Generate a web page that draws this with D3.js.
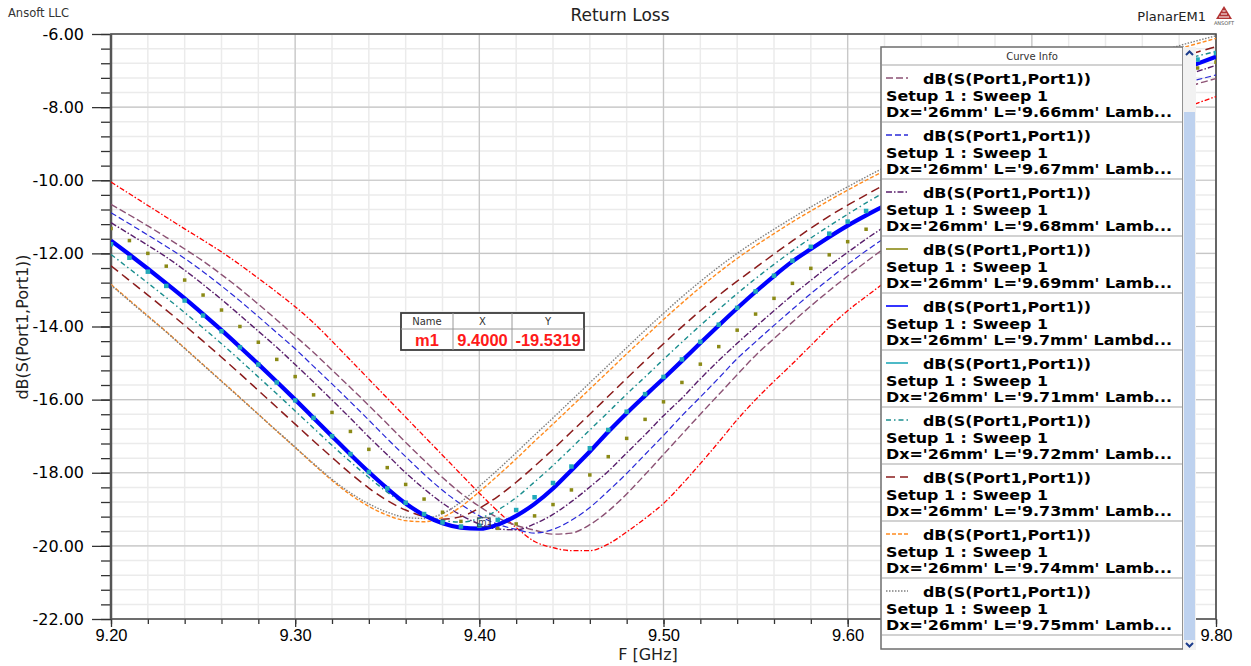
<!DOCTYPE html>
<html>
<head>
<meta charset="utf-8">
<title>Return Loss</title>
<script src="https://cdnjs.cloudflare.com/ajax/libs/d3/7.8.5/d3.min.js"></script>
<style>
  body { margin: 0; background: #fff; }
  svg { display: block; }
</style>
</head>
<body>
<div id="chart"></div>
<script>

// ---- DATA -------------------------

var freqGHz = [9.20, 9.21, 9.22, 9.23, 9.24, 9.25, 9.26, 9.27, 9.28, 9.29, 9.30,
               9.31, 9.32, 9.33, 9.34, 9.35, 9.36, 9.37, 9.38, 9.39, 9.40,
               9.41, 9.42, 9.43, 9.44, 9.45, 9.46, 9.47, 9.48, 9.49, 9.50,
               9.51, 9.52, 9.53, 9.54, 9.55, 9.56, 9.57, 9.58, 9.59, 9.60,
               9.61, 9.62, 9.63, 9.64, 9.65, 9.66, 9.67, 9.68, 9.69, 9.70,
               9.71, 9.72, 9.73, 9.74, 9.75, 9.76, 9.77, 9.78, 9.79, 9.80];

var dB_L965 = [-10.05, -10.37, -10.69, -11.01, -11.33, -11.64, -11.96, -12.31, -12.68, -13.06, -13.46,
               -13.90, -14.40, -14.92, -15.44, -15.96, -16.48, -17.00, -17.52, -18.04, -18.56,
               -19.05, -19.50, -19.88, -20.05, -20.13, -20.13, -19.95, -19.62, -19.25, -18.84,
               -18.32, -17.75, -17.16, -16.55, -16.00, -15.50, -15.02, -14.52, -14.02, -13.57,
               -13.18, -12.80, -12.42, -12.05, -11.70, -11.36, -11.03, -10.71, -10.40, -10.10,
               -9.81, -9.53, -9.26, -9.00, -8.75, -8.51, -8.29, -8.08, -7.89, -7.71];

var dB_L966 = [-10.66, -10.95, -11.25, -11.56, -11.88, -12.21, -12.58, -12.97, -13.39, -13.82, -14.26,
               -14.71, -15.19, -15.67, -16.16, -16.66, -17.17, -17.66, -18.13, -18.56, -18.92,
               -19.23, -19.44, -19.57, -19.68, -19.65, -19.42, -19.05, -18.58, -18.05, -17.50,
               -16.95, -16.40, -15.86, -15.32, -14.79, -14.33, -13.88, -13.44, -13.02, -12.62,
               -12.23, -11.86, -11.51, -11.17, -10.85, -10.53, -10.22, -9.92, -9.63, -9.36,
               -9.09, -8.83, -8.58, -8.34, -8.12, -7.90, -7.70, -7.53, -7.36, -7.22];

var dB_L967 = [-10.89, -11.19, -11.50, -11.81, -12.14, -12.50, -12.89, -13.30, -13.73, -14.17, -14.61,
               -15.09, -15.57, -16.06, -16.56, -17.07, -17.56, -18.04, -18.48, -18.86, -19.18,
               -19.41, -19.55, -19.65, -19.55, -19.30, -18.95, -18.50, -18.02, -17.50, -16.98,
               -16.44, -15.93, -15.41, -14.88, -14.42, -13.97, -13.53, -13.10, -12.70, -12.30,
               -11.93, -11.58, -11.24, -10.91, -10.59, -10.28, -9.98, -9.69, -9.41, -9.14,
               -8.88, -8.63, -8.39, -8.16, -7.94, -7.74, -7.56, -7.39, -7.25, -7.12];

var dB_L968 = [-11.16, -11.47, -11.78, -12.10, -12.46, -12.85, -13.26, -13.69, -14.13, -14.57, -15.04,
               -15.52, -16.01, -16.51, -17.02, -17.51, -18.00, -18.44, -18.83, -19.16, -19.40,
               -19.54, -19.56, -19.40, -19.14, -18.79, -18.39, -17.96, -17.46, -16.96, -16.44,
               -15.96, -15.43, -14.93, -14.46, -14.01, -13.57, -13.14, -12.74, -12.34, -11.97,
               -11.61, -11.27, -10.94, -10.62, -10.31, -10.01, -9.72, -9.44, -9.17, -8.91,
               -8.66, -8.42, -8.19, -7.97, -7.76, -7.56, -7.37, -7.19, -7.02, -6.86];

var dB_L969 = [-11.32, -11.65, -12.00, -12.35, -12.73, -13.14, -13.55, -14.00, -14.43, -14.90, -15.37,
               -15.87, -16.35, -16.87, -17.36, -17.86, -18.32, -18.72, -19.08, -19.33, -19.45,
               -19.52, -19.40, -19.18, -18.87, -18.47, -18.06, -17.56, -17.06, -16.54, -16.06,
               -15.53, -15.03, -14.55, -14.10, -13.66, -13.23, -12.82, -12.41, -12.04, -11.68,
               -11.34, -11.01, -10.69, -10.38, -10.08, -9.79, -9.51, -9.24, -8.98, -8.73,
               -8.49, -8.26, -8.04, -7.83, -7.63, -7.44, -7.26, -7.09, -6.93, -6.77];

var dB_L970 = [-11.65, -12.03, -12.42, -12.82, -13.23, -13.66, -14.10, -14.56, -15.03, -15.51, -16.00,
               -16.50, -17.00, -17.50, -17.98, -18.43, -18.84, -19.16, -19.38, -19.50, -19.53,
               -19.42, -19.18, -18.85, -18.43, -17.93, -17.42, -16.88, -16.37, -15.89, -15.42,
               -14.94, -14.45, -13.97, -13.50, -13.05, -12.62, -12.22, -11.88, -11.55, -11.24,
               -10.96, -10.70, -10.44, -10.19, -9.94, -9.70, -9.45, -9.21, -8.97, -8.74,
               -8.51, -8.28, -8.06, -7.84, -7.63, -7.42, -7.21, -7.01, -6.81, -6.62];

var dB_L971 = [-11.75, -12.12, -12.50, -12.89, -13.29, -13.70, -14.13, -14.57, -15.04, -15.53, -16.02,
               -16.50, -17.00, -17.49, -17.98, -18.43, -18.82, -19.13, -19.36, -19.47, -19.45,
               -19.29, -19.02, -18.67, -18.28, -17.83, -17.33, -16.83, -16.33, -15.85, -15.38,
               -14.90, -14.42, -13.95, -13.49, -13.04, -12.61, -12.20, -11.82, -11.46, -11.13,
               -10.84, -10.57, -10.30, -10.04, -9.78, -9.53, -9.28, -9.04, -8.80, -8.57,
               -8.34, -8.12, -7.90, -7.69, -7.48, -7.28, -7.08, -6.89, -6.70, -6.52];

var dB_L972 = [-12.03, -12.42, -12.81, -13.21, -13.62, -14.04, -14.47, -14.92, -15.38, -15.84, -16.31,
               -16.78, -17.25, -17.70, -18.13, -18.53, -18.87, -19.13, -19.30, -19.35, -19.25,
               -19.02, -18.68, -18.25, -17.80, -17.32, -16.83, -16.34, -15.85, -15.38, -14.90,
               -14.43, -13.97, -13.53, -13.10, -12.69, -12.30, -11.93, -11.58, -11.25, -10.93,
               -10.62, -10.33, -10.05, -9.78, -9.52, -9.26, -9.01, -8.77, -8.53, -8.30,
               -8.07, -7.85, -7.64, -7.43, -7.23, -7.06, -6.89, -6.73, -6.60, -6.48];

var dB_L973 = [-12.34, -12.74, -13.14, -13.55, -13.97, -14.40, -14.84, -15.29, -15.75, -16.21, -16.67,
               -17.13, -17.58, -18.02, -18.42, -18.76, -19.02, -19.20, -19.27, -19.20, -18.97,
               -18.65, -18.26, -17.82, -17.36, -16.88, -16.40, -15.91, -15.42, -14.94, -14.47,
               -14.01, -13.57, -13.15, -12.76, -12.39, -12.02, -11.66, -11.31, -10.98, -10.68,
               -10.40, -10.12, -9.85, -9.59, -9.33, -9.08, -8.84, -8.60, -8.37, -8.14,
               -7.92, -7.71, -7.50, -7.30, -7.11, -6.94, -6.78, -6.63, -6.49, -6.35];

var dB_L974 = [-12.85, -13.28, -13.71, -14.14, -14.59, -15.04, -15.49, -15.94, -16.40, -16.86, -17.31,
               -17.77, -18.21, -18.60, -18.92, -19.16, -19.31, -19.34, -19.22, -18.93, -18.52,
               -18.08, -17.62, -17.14, -16.67, -16.19, -15.71, -15.23, -14.75, -14.28, -13.81,
               -13.36, -12.93, -12.52, -12.14, -11.79, -11.46, -11.14, -10.84, -10.55, -10.27,
               -10.00, -9.74, -9.49, -9.24, -9.00, -8.76, -8.53, -8.30, -8.08, -7.86,
               -7.65, -7.45, -7.25, -7.06, -6.88, -6.71, -6.55, -6.40, -6.26, -6.12];

var dB_L975 = [-12.87, -13.30, -13.73, -14.15, -14.60, -15.05, -15.50, -15.95, -16.40, -16.85, -17.30,
               -17.75, -18.18, -18.55, -18.85, -19.08, -19.22, -19.25, -19.12, -18.80, -18.37,
               -17.92, -17.45, -16.97, -16.50, -16.02, -15.54, -15.06, -14.58, -14.10, -13.64,
               -13.19, -12.77, -12.37, -12.00, -11.66, -11.34, -11.03, -10.73, -10.45, -10.18,
               -9.91, -9.65, -9.40, -9.15, -8.91, -8.67, -8.44, -8.21, -7.99, -7.77,
               -7.56, -7.36, -7.16, -6.97, -6.80, -6.63, -6.47, -6.32, -6.18, -6.05];

var lengthLabels = ["9.65mm", "9.66mm", "9.67mm", "9.68mm", "9.69mm", "9.7mm",
                    "9.71mm", "9.72mm", "9.73mm", "9.74mm", "9.75mm"];

var legendTail = ["Lamb...", "Lamb...", "Lamb...", "Lamb...", "Lamb...", "Lambd...",
                  "Lamb...", "Lamb...", "Lamb...", "Lamb...", "Lamb..."];

var xTickValues = [9.20, 9.30, 9.40, 9.50, 9.60, 9.70, 9.80];
var xTickLabels = ["9.20", "9.30", "9.40", "9.50", "9.60", "9.70", "9.80"];
var yTickValues = [-22, -20, -18, -16, -14, -12, -10, -8, -6];
var yTickLabels = ["-22.00", "-20.00", "-18.00", "-16.00", "-14.00", "-12.00", "-10.00", "-8.00", "-6.00"];

var markerHeader = ["Name", "X", "Y"];
var markerRow = ["m1", "9.4000", "-19.5319"];
var markerPoint = {f: 9.40, dB: -19.5319};


window.onload = function () {

    var width = 1251,
        height = 666,
        plot = {left: 111, right: 1216, top: 34, bottom: 619},
        font = "DejaVu Sans, Verdana, sans-serif",
        arial = "Liberation Sans, Arial, sans-serif";

    var allSeries = [dB_L965, dB_L966, dB_L967, dB_L968, dB_L969, dB_L970,
                     dB_L971, dB_L972, dB_L973, dB_L974, dB_L975];

    // styles, same order as allSeries
    var curveStyle = [
        {color: "#ff0000", dash: "5,2,1.5,2", width: 1.3},
        {color: "#8c5274", dash: "7,3", width: 1.4},
        {color: "#2a2ad8", dash: "6,3", width: 1.2},
        {color: "#5a1f6c", dash: "6,2,1.5,2", width: 1.4},
        {color: "#8b8a16", mark: 3.5},
        {color: "#0000ff", width: 4.2},
        {color: "#22a9ba", mark: 4.5},
        {color: "#1b8e8e", dash: "5,3,1.5,3", width: 1.4},
        {color: "#8b1c1c", dash: "9,5", width: 1.5},
        {color: "#ff8c20", dash: "4,2", width: 1.4},
        {color: "#7f7f7f", dash: "1.5,1.5", width: 1.4}
    ];

    var curves = allSeries.map(function (vals, i) {
        return {
            label: lengthLabels[i],
            style: curveStyle[i],
            points: vals.map(function (v, j) { return {f: freqGHz[j], dB: v}; })
        };
    });

    var svg = d3.select("#chart")
                .append("svg")
                .attr("width", width)
                .attr("height", height)
                .style("font-family", font);

    svg.append("rect").attr("width", width).attr("height", height).attr("fill", "#fff");

    // scales
    var xScale = d3.scaleLinear()
                    .domain([9.2, 9.8])
                    .range([plot.left, plot.right]);

    var yScale = d3.scaleLinear()
                    .domain([-22, -6])
                    .range([plot.bottom, plot.top]);

    var minorX = d3.range(0, 31).map(function (i) { return 9.2 + i * 0.02; }),
        minorY = d3.range(0, 41).map(function (i) { return -22 + i * 0.4; });

    // legend box geometry (needed early: it hides the 9.70 label)
    var lg = {x: 881, y: 47, w: 302, h: 602, head: 18, row: 57};

    // ---- GRID -----
    var grid = svg.append("g");

    grid.selectAll(".mx").data(minorX).enter().append("line")
        .attr("x1", function (d) { return xScale(d); })
        .attr("x2", function (d) { return xScale(d); })
        .attr("y1", plot.top).attr("y2", plot.bottom)
        .attr("stroke", "#ebebeb").attr("stroke-width", 1.5);

    grid.selectAll(".my").data(minorY).enter().append("line")
        .attr("y1", function (d) { return yScale(d); })
        .attr("y2", function (d) { return yScale(d); })
        .attr("x1", plot.left).attr("x2", plot.right)
        .attr("stroke", "#ebebeb").attr("stroke-width", 1.5);

    grid.selectAll(".Mx").data(xTickValues).enter().append("line")
        .attr("x1", function (d) { return xScale(d); })
        .attr("x2", function (d) { return xScale(d); })
        .attr("y1", plot.top).attr("y2", plot.bottom)
        .attr("stroke", "#c6c6c6").attr("stroke-width", 1.2);

    grid.selectAll(".My").data(yTickValues).enter().append("line")
        .attr("y1", function (d) { return yScale(d); })
        .attr("y2", function (d) { return yScale(d); })
        .attr("x1", plot.left).attr("x2", plot.right)
        .attr("stroke", "#c6c6c6").attr("stroke-width", 1.2);

    // ---- AXES -----
    var styleAxis = function (g) {
        g.select(".domain").remove();
        g.selectAll(".tick line").attr("stroke", "#333").attr("stroke-width", 1.3);
    };

    svg.append("g")
        .attr("transform", "translate(0," + plot.bottom + ")")
        .call(d3.axisBottom(xScale).tickValues(minorX).tickSize(5).tickFormat(""))
        .call(styleAxis);

    // labels that sit under the Curve Info box are not drawn (hidden in the original)
    svg.append("g")
        .attr("transform", "translate(0," + plot.bottom + ")")
        .call(d3.axisBottom(xScale).tickValues(xTickValues).tickSize(8).tickPadding(2)
                .tickFormat(function (d, i) {
                    var px = xScale(d);
                    return (px > lg.x + 15 && px < lg.x + lg.w) ? "" : xTickLabels[i];
                }))
        .call(styleAxis)
        .selectAll("text")
            .attr("fill", "#000")
            .style("font-family", arial)
            .style("font-size", "16.5px");

    svg.append("g")
        .attr("transform", "translate(" + plot.left + ",0)")
        .call(d3.axisLeft(yScale).tickValues(minorY).tickSize(10).tickFormat(""))
        .call(styleAxis);

    svg.append("g")
        .attr("transform", "translate(" + plot.left + ",0)")
        .call(d3.axisLeft(yScale).tickValues(yTickValues).tickSize(19).tickPadding(8)
                .tickFormat(function (d, i) { return yTickLabels[i]; }))
        .call(styleAxis)
        .selectAll("text")
            .attr("fill", "#000")
            .style("font-family", font)
            .style("font-size", "16px");

    // frame
    svg.append("path")
        .attr("d", "M" + plot.left + "," + plot.bottom + "V" + plot.top + "H" + plot.right + "V" + plot.bottom + "H" + plot.left)
        .attr("fill", "none").attr("stroke", "#4a4a4a").attr("stroke-width", 1.6);
    svg.append("line")
        .attr("x1", plot.left).attr("x2", plot.left)
        .attr("y1", plot.top).attr("y2", plot.bottom)
        .attr("stroke", "#555").attr("stroke-width", 2.5);

    // ---- CURVES -----
    svg.append("clipPath").attr("id", "plotclip")
        .append("rect")
        .attr("x", plot.left).attr("y", plot.top)
        .attr("width", plot.right - plot.left).attr("height", plot.bottom - plot.top);

    var line = d3.line()
                 .x(function (d) { return xScale(d.f); })
                 .y(function (d) { return yScale(d.dB); })
                 .curve(d3.curveMonotoneX);

    var curveLayer = svg.append("g").attr("clip-path", "url(#plotclip)");
    var drawOrder = [0, 1, 2, 3, 8, 7, 9, 10, 5, 4, 6];

    drawOrder.forEach(function (k) {
        var c = curves[k];
        if (c.style.mark) {
            var s = c.style.mark;
            curveLayer.append("g").selectAll("rect")
                .data(c.points).enter().append("rect")
                .attr("x", function (d) { return xScale(d.f) - s / 2; })
                .attr("y", function (d) { return yScale(d.dB) - s / 2; })
                .attr("width", s).attr("height", s)
                .attr("fill", c.style.color);
        } else {
            curveLayer.append("path")
                .datum(c.points)
                .attr("d", line)
                .attr("fill", "none")
                .attr("stroke", c.style.color)
                .attr("stroke-width", c.style.width)
                .attr("stroke-dasharray", c.style.dash || null)
                .attr("stroke-linejoin", "round");
        }
    });

    // m1 marker label
    var mx = xScale(markerPoint.f), my = yScale(markerPoint.dB);
    svg.append("rect")
        .attr("x", mx - 2).attr("y", my - 11).attr("width", 13).attr("height", 9)
        .attr("fill", "none").attr("stroke", "#3a3a50").attr("stroke-width", 0.8);
    svg.append("text")
        .attr("x", mx - 1).attr("y", my - 3.5)
        .attr("font-size", 8.5).attr("fill", "#3a3a50")
        .text(markerRow[0]);

    // ---- MARKER TABLE -----
    var tb = {x: 401, y: 313, w: 183, h: 37, head: 16},
        cols = [401, 453, 512, 584],
        table = svg.append("g");

    table.append("rect")
        .attr("x", tb.x).attr("y", tb.y).attr("width", tb.w).attr("height", tb.h)
        .attr("fill", "#fff").attr("stroke", "#3c3c3c").attr("stroke-width", 1.8);
    table.append("line")
        .attr("x1", tb.x).attr("x2", tb.x + tb.w)
        .attr("y1", tb.y + tb.head).attr("y2", tb.y + tb.head)
        .attr("stroke", "#9a9a9a");
    table.selectAll(".col").data([cols[1], cols[2]]).enter().append("line")
        .attr("x1", function (d) { return d; }).attr("x2", function (d) { return d; })
        .attr("y1", tb.y).attr("y2", tb.y + tb.h)
        .attr("stroke", "#9a9a9a");
    table.selectAll(".hd").data(markerHeader).enter().append("text")
        .attr("x", function (d, i) { return (cols[i] + cols[i + 1]) / 2; })
        .attr("y", tb.y + 12)
        .attr("text-anchor", "middle")
        .attr("font-size", 10).attr("fill", "#333")
        .text(function (d) { return d; });
    table.selectAll(".vl").data(markerRow).enter().append("text")
        .attr("x", function (d, i) { return (cols[i] + cols[i + 1]) / 2; })
        .attr("y", tb.y + 33)
        .attr("text-anchor", "middle")
        .style("font-family", arial)
        .attr("font-size", 16.5).attr("font-weight", "bold").attr("fill", "#ff1a1a")
        .text(function (d) { return d; });

    // ---- CURVE INFO LEGEND -----
    var legend = svg.append("g");

    legend.append("rect")
        .attr("x", lg.x).attr("y", lg.y).attr("width", lg.w).attr("height", lg.h)
        .attr("fill", "#fff").attr("stroke", "#6e6e6e").attr("stroke-width", 1.5);
    legend.append("text")
        .attr("x", lg.x + lg.w / 2).attr("y", lg.y + 13)
        .attr("text-anchor", "middle").attr("font-size", 10).attr("fill", "#333")
        .text("Curve Info");

    var rows = curves.slice(1);
    var rowTop = function (i) { return lg.y + lg.head + i * lg.row; };

    legend.selectAll(".sep").data(d3.range(rows.length + 1)).enter().append("line")
        .attr("x1", lg.x + 1).attr("x2", lg.x + lg.w - 1)
        .attr("y1", function (i) { return rowTop(i); })
        .attr("y2", function (i) { return rowTop(i); })
        .attr("stroke", "#d2d2d2").attr("stroke-width", 2);

    var entry = legend.selectAll(".entry").data(rows).enter().append("g")
        .attr("transform", function (d, i) { return "translate(" + (lg.x + 5) + "," + rowTop(i) + ")"; });

    entry.append("line")
        .attr("x1", 0).attr("x2", 22).attr("y1", 13).attr("y2", 13)
        .attr("stroke", function (d) { return d.style.color; })
        .attr("stroke-width", 1.6)
        .attr("stroke-dasharray", function (d) { return d.style.dash || null; });

    var addLine = function (x, y, len, textFn) {
        entry.append("text")
            .attr("x", x).attr("y", y)
            .attr("font-size", 14).attr("font-weight", "bold").attr("fill", "#000")
            .attr("textLength", len).attr("lengthAdjust", "spacingAndGlyphs")
            .text(textFn);
    };
    addLine(37, 19, 168, function () { return "dB(S(Port1,Port1))"; });
    addLine(0, 35.5, 162, function () { return "Setup 1 : Sweep 1"; });
    addLine(0, 52, 286, function (d, i) { return "Dx='26mm' L='" + d.label + "' " + legendTail[i + 1]; });

    // scrollbar
    var sb = {x: 1183, y: 47, w: 13, h: 603};
    legend.append("rect")
        .attr("x", sb.x).attr("y", sb.y).attr("width", sb.w).attr("height", sb.h)
        .attr("fill", "#f2f2f2");
    legend.append("rect")
        .attr("x", sb.x + 1).attr("y", 112).attr("width", sb.w - 2).attr("height", 528)
        .attr("fill", "#bed2ef");
    legend.append("path")
        .attr("d", "M" + (sb.x + 3) + ",55 L" + (sb.x + 6.5) + ",51.5 L" + (sb.x + 10) + ",55")
        .attr("fill", "none").attr("stroke", "#1c3c8c").attr("stroke-width", 2);
    legend.append("path")
        .attr("d", "M" + (sb.x + 3) + ",643 L" + (sb.x + 6.5) + ",646.5 L" + (sb.x + 10) + ",643")
        .attr("fill", "none").attr("stroke", "#1c3c8c").attr("stroke-width", 2);

    // ---- TITLES -----
    svg.append("text")
        .attr("x", 620).attr("y", 21)
        .attr("text-anchor", "middle").attr("font-size", 17).attr("fill", "#222")
        .text("Return Loss");
    svg.append("text")
        .attr("x", 8).attr("y", 17)
        .attr("font-size", 11.5).attr("fill", "#333")
        .text("Ansoft LLC");
    svg.append("text")
        .attr("x", 1206).attr("y", 21)
        .attr("text-anchor", "end").attr("font-size", 13).attr("fill", "#222")
        .text("PlanarEM1");
    svg.append("text")
        .attr("x", 648).attr("y", 660)
        .attr("text-anchor", "middle").attr("font-size", 16).attr("fill", "#222")
        .text("F [GHz]");
    svg.append("text")
        .attr("transform", "translate(28,327) rotate(-90)")
        .attr("text-anchor", "middle").attr("font-size", 16).attr("fill", "#222")
        .text("dB(S(Port1,Port1))");

    // small ansoft logo
    var logo = svg.append("g").attr("transform", "translate(1224,6)");
    logo.append("path").attr("d", "M0,0 L8,13 L-8,13 Z").attr("fill", "#b23434");
    logo.append("path").attr("d", "M-3,8 L3,8 M-5,11 L5,11 M-1.5,5 L1.5,5")
        .attr("stroke", "#fff").attr("stroke-width", 1);
    logo.append("text").attr("x", 0).attr("y", 19)
        .attr("text-anchor", "middle").attr("font-size", 5).attr("fill", "#555")
        .text("ANSOFT");
};
</script>
</body>
</html>
